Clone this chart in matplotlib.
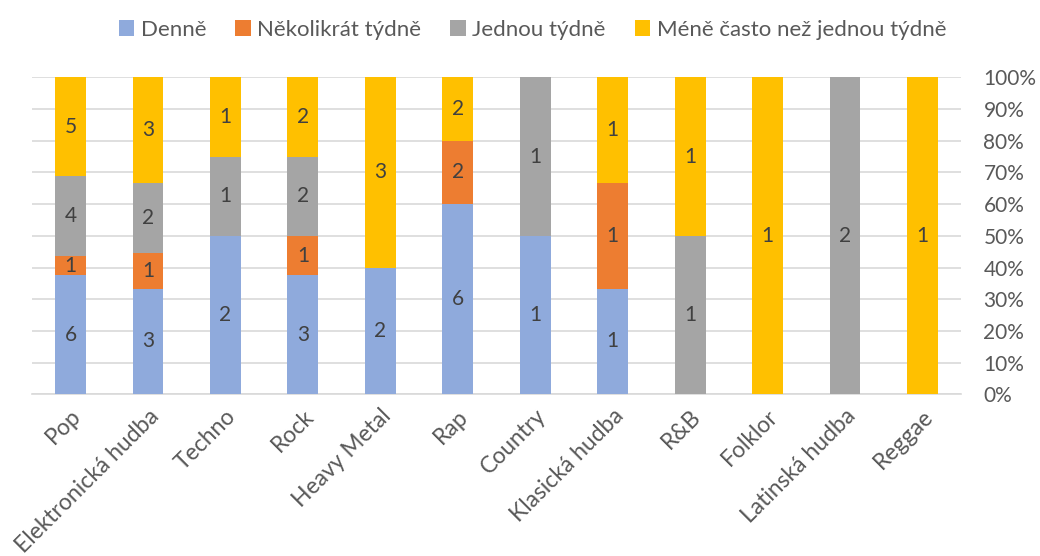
import matplotlib
matplotlib.use("Agg")
import matplotlib.pyplot as plt
import numpy as np
from matplotlib.ticker import PercentFormatter

plt.rcParams['font.family'] = ['Lato', 'DejaVu Sans']

categories = ["Pop", "Elektronická hudba", "Techno", "Rock", "Heavy Metal", "Rap",
              "Country", "Klasická hudba", "R&B", "Folklor", "Latinská hudba", "Reggae"]
series_names = ["Denně", "Několikrát týdně", "Jednou týdně", "Méně často než jednou týdně"]
denne =      [6, 3, 2, 3, 2, 6, 1, 1, 0, 0, 0, 0]
nekolikrat = [1, 1, 0, 1, 0, 2, 0, 1, 0, 0, 0, 0]
jednou =     [4, 2, 1, 2, 0, 0, 1, 0, 1, 0, 2, 0]
mene =       [5, 3, 1, 2, 3, 2, 0, 1, 1, 1, 0, 1]
colors = ["#8FAADC", "#ED7D31", "#A5A5A5", "#FFC000"]

data = np.array([denne, nekolikrat, jednou, mene], dtype=float)
totals = data.sum(axis=0)
shares = data / totals

fig = plt.figure(figsize=(10.4, 5.56), dpi=100)
ax = fig.add_axes([0.0306, 0.2908, 0.8936, 0.5702])

x = np.arange(len(categories))
bottom = np.zeros(len(categories))
handles = []
for i, name in enumerate(series_names):
    bars = ax.bar(x, shares[i], 0.4, bottom=bottom, color=colors[i], label=name, zorder=3)
    handles.append(bars)
    for j in range(len(categories)):
        if data[i, j] > 0:
            ax.text(x[j], bottom[j] + shares[i, j] / 2, f"{int(data[i, j])}",
                    ha='center', va='center', fontsize=15, color='#404040', zorder=4)
    bottom += shares[i]

ax.set_xlim(-0.5, len(categories) - 0.5)
ax.set_ylim(0, 1)
ax.yaxis.tick_right()
ax.set_yticks(np.arange(0, 1.01, 0.1))
ax.yaxis.set_major_formatter(PercentFormatter(1.0, decimals=0))
ax.grid(axis='y', color='#D9D9D9', linewidth=1.2, zorder=0)
ax.set_xticks(x)
ax.set_xticklabels(categories, rotation=45, ha='right', rotation_mode='anchor')
ax.tick_params(axis='both', length=0, labelcolor='#595959')
ax.tick_params(axis='y', pad=16, labelsize=15)
ax.tick_params(axis='x', pad=8, labelsize=16.5)
for s in ['top', 'left', 'right']:
    ax.spines[s].set_visible(False)
ax.spines['bottom'].set_color('#D9D9D9')
ax.spines['bottom'].set_linewidth(1.2)

leg = fig.legend(handles=handles, labels=series_names, loc='upper center',
                 bbox_to_anchor=(0.512, 1.0), ncol=4, frameon=False, fontsize=16,
                 handlelength=0.7, handleheight=0.7, handletextpad=0.3, columnspacing=1.3)
for t in leg.get_texts():
    t.set_color('#595959')

fig.savefig("out.png", dpi=100)
